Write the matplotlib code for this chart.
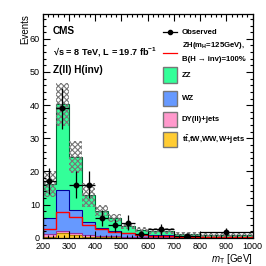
import numpy as np
import matplotlib
matplotlib.use("Agg")
import matplotlib.pyplot as plt
from matplotlib.patches import Rectangle
from matplotlib.lines import Line2D

plt.rcParams['font.family'] = ['Liberation Sans', 'DejaVu Sans']
plt.rcParams['hatch.linewidth'] = 0.8
plt.rcParams['mathtext.fontset'] = 'custom'
plt.rcParams['mathtext.it'] = 'Liberation Sans:italic'
plt.rcParams['mathtext.rm'] = 'Liberation Sans'
plt.rcParams['mathtext.bf'] = 'Liberation Sans:bold'

# ---- data ----
edges = [200, 250, 300, 350, 400, 450, 500, 550, 600, 700, 800, 1000]
bkg_top = [0.2, 1.3, 0.9, 0.2, 0.1, 0.1, 0.05, 0.05, 0.02, 0.02, 0.01]      # ttbar,tW,WW,W+jets
dy = [0.8, 0.9, 0.5, 0.6, 0.4, 0.3, 0.3, 0.2, 0.1, 0.05, 0.05]             # DY(ll)+jets
wz = [5.0, 12.1, 6.9, 4.0, 2.5, 1.7, 1.05, 0.75, 0.68, 0.33, 0.24]         # WZ
zz = [10.2, 25.9, 16.0, 8.0, 5.2, 3.9, 2.2, 1.4, 1.2, 0.6, 0.5]            # ZZ
unc = [4.0, 6.5, 4.8, 3.6, 1.6, 1.2, 1.0, 0.8, 0.9, 0.6, 0.5]              # total bkg uncertainty
signal = [2.8, 7.7, 6.2, 4.0, 2.6, 1.7, 1.35, 0.9, 0.6, 0.35, 0.3]          # ZH(125), B(inv)=100%
obs = [17, 39, 16, 16, 6, 3.8, 4.6, 1.05, 2.6, 0.55, 1.7]
obs_err = [3.9, 6.2, 4.0, 4.0, 2.4, 2.0, 2.2, 1.0, 1.7, 0.8, 1.3]

edges = np.array(edges, float)
centers = 0.5 * (edges[:-1] + edges[1:])
halfw = 0.5 * (edges[1:] - edges[:-1])

fig = plt.figure(figsize=(2.66, 2.66), dpi=100)
ax = fig.add_axes([0.1605, 0.106, 0.7895, 0.8415])

b0 = np.zeros(len(zz))
b1 = b0 + np.array(bkg_top)
b2 = b1 + np.array(dy)
b3 = b2 + np.array(wz)
b4 = b3 + np.array(zz)

ax.stairs(b1, edges, baseline=b0, fill=True, color='#ffcc33', lw=0)
ax.stairs(b2, edges, baseline=b1, fill=True, color='#ff99cc', lw=0)
ax.stairs(b3, edges, baseline=b2, fill=True, color='#6699ff', lw=0)
ax.stairs(b4, edges, baseline=b3, fill=True, color='#33ff99', lw=0)
ax.stairs(b1, edges, color='#b38600', lw=0.8)
ax.stairs(b2, edges, color='#993399', lw=0.8)
ax.stairs(b3, edges, color='#000099', lw=0.8)
ax.stairs(b4, edges, color='#006633', lw=0.8)

# uncertainty band
ax.bar(centers, 2 * np.array(unc), width=2 * halfw, bottom=b4 - np.array(unc),
       fill=False, hatch='xxxxxx', edgecolor='#777777', linewidth=0)

# signal
ax.stairs(signal, edges, color='#ff0000', lw=1.0)

# observed
ax.errorbar(centers, obs, yerr=obs_err, xerr=halfw, fmt='o', color='black',
            ms=3.2, elinewidth=0.9, capsize=0)

ax.set_xlim(200, 1000)
ax.set_ylim(0, 67.5)
ax.set_xticks(np.arange(200, 1001, 100))
ax.set_xticks(np.arange(200, 1001, 20), minor=True)
ax.set_yticks(np.arange(0, 61, 10))
ax.set_yticks(np.arange(0, 67, 2), minor=True)
ax.tick_params(which='both', direction='in', top=True, right=True, labelsize=6.5, pad=2)
ax.tick_params(axis='x', pad=3)
ax.tick_params(which='major', length=5, width=0.8)
ax.tick_params(which='minor', length=2.5, width=0.8)
for s in ax.spines.values():
    s.set_linewidth(0.9)

ax.set_ylabel('Events', fontsize=7, loc='top', labelpad=0)
ax.set_xlabel(r'$m_{\mathrm{T}}$ [GeV]', fontsize=7, loc='right', labelpad=1)

# header text
ax.text(0.048, 0.923, 'CMS', transform=ax.transAxes, fontsize=7.2, fontweight='bold', va='center')
ax.text(0.048, 0.832, r'√s = 8 TeV, L = 19.7 fb$^{\mathbf{-1}}$', transform=ax.transAxes,
        fontsize=6.6, fontweight='bold', va='center')
ax.text(0.048, 0.75, 'Z(ll) H(inv)', transform=ax.transAxes, fontsize=7.2, fontweight='bold', va='center')

# legend (drawn in axes coordinates)
tx = 0.662
fs = 5.6
ax.add_line(Line2D([0.571, 0.638], [0.918, 0.918], transform=ax.transAxes, color='black', lw=0.9))
ax.add_line(Line2D([0.6045], [0.918], transform=ax.transAxes, marker='o', ms=3, color='black'))
ax.text(tx, 0.918, 'Observed', transform=ax.transAxes, fontsize=fs, fontweight='bold', va='center')
ax.add_line(Line2D([0.571, 0.638], [0.826, 0.826], transform=ax.transAxes, color='#ff0000', lw=0.9))
ax.text(tx, 0.857, r'ZH(m$_{\mathbf{H}}$=125GeV),', transform=ax.transAxes, fontsize=fs, fontweight='bold', va='center')
ax.text(tx, 0.795, 'B(H → inv)=100%', transform=ax.transAxes, fontsize=fs, fontweight='bold', va='center')
entries = [('ZZ', '#33ff99', 0.727), ('WZ', '#6699ff', 0.624),
           ('DY(ll)+jets', '#ff99cc', 0.53), ('t$\\mathbf{\\bar{t}}$,tW,WW,W+jets', '#ffcc33', 0.438)]
for lab, col, yy in entries:
    ax.add_patch(Rectangle((0.571, yy - 0.034), 0.067, 0.068, transform=ax.transAxes,
                           facecolor=col, edgecolor='#777777', lw=1.0))
    ax.text(tx, yy, lab, transform=ax.transAxes, fontsize=fs, fontweight='bold', va='center')

fig.savefig('out.png', dpi=100)
